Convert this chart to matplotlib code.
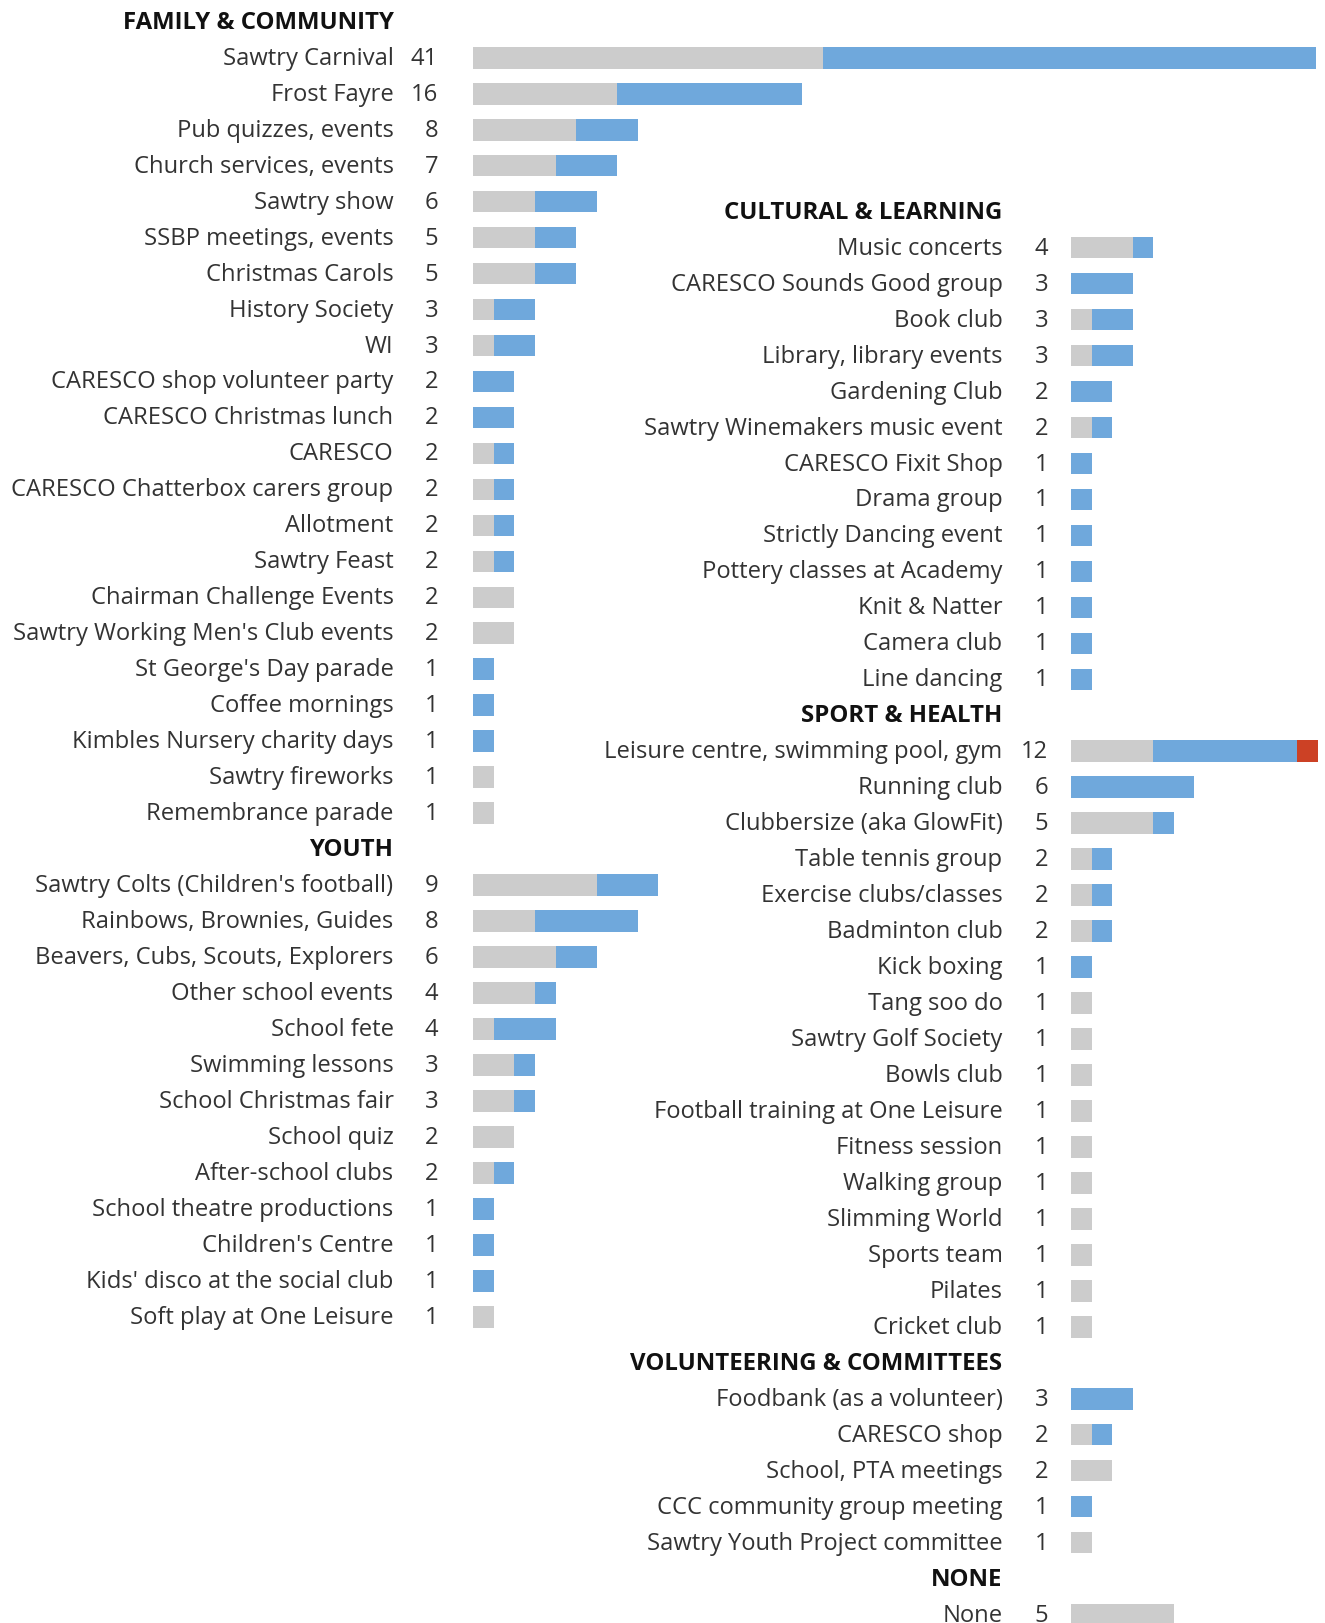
import matplotlib
matplotlib.use("Agg")
import matplotlib.pyplot as plt
import matplotlib.transforms as mtransforms

# ---- data (grey / blue / red segments per activity) ----
family_labels = ["Sawtry Carnival", "Frost Fayre", "Pub quizzes, events", "Church services, events",
                 "Sawtry show", "SSBP meetings, events", "Christmas Carols", "History Society", "WI",
                 "CARESCO shop volunteer party", "CARESCO Christmas lunch", "CARESCO",
                 "CARESCO Chatterbox carers group", "Allotment", "Sawtry Feast",
                 "Chairman Challenge Events", "Sawtry Working Men's Club events",
                 "St George's Day parade", "Coffee mornings", "Kimbles Nursery charity days",
                 "Sawtry fireworks", "Remembrance parade"]
family_grey = [17, 7, 5, 4, 3, 3, 3, 1, 1, 0, 0, 1, 1, 1, 1, 2, 2, 0, 0, 0, 1, 1]
family_blue = [24, 9, 3, 3, 3, 2, 2, 2, 2, 2, 2, 1, 1, 1, 1, 0, 0, 1, 1, 1, 0, 0]

youth_labels = ["Sawtry Colts (Children's football)", "Rainbows, Brownies, Guides",
                "Beavers, Cubs, Scouts, Explorers", "Other school events", "School fete",
                "Swimming lessons", "School Christmas fair", "School quiz", "After-school clubs",
                "School theatre productions", "Children's Centre", "Kids' disco at the social club",
                "Soft play at One Leisure"]
youth_grey = [6, 3, 4, 3, 1, 2, 2, 2, 1, 0, 0, 0, 1]
youth_blue = [3, 5, 2, 1, 3, 1, 1, 0, 1, 1, 1, 1, 0]

cultural_labels = ["Music concerts", "CARESCO Sounds Good group", "Book club",
                   "Library, library events", "Gardening Club", "Sawtry Winemakers music event",
                   "CARESCO Fixit Shop", "Drama group", "Strictly Dancing event",
                   "Pottery classes at Academy", "Knit & Natter", "Camera club", "Line dancing"]
cultural_grey = [3, 0, 1, 1, 0, 1, 0, 0, 0, 0, 0, 0, 0]
cultural_blue = [1, 3, 2, 2, 2, 1, 1, 1, 1, 1, 1, 1, 1]

sport_labels = ["Leisure centre, swimming pool, gym", "Running club", "Clubbersize (aka GlowFit)",
                "Table tennis group", "Exercise clubs/classes", "Badminton club", "Kick boxing",
                "Tang soo do", "Sawtry Golf Society", "Bowls club", "Football training at One Leisure",
                "Fitness session", "Walking group", "Slimming World", "Sports team", "Pilates",
                "Cricket club"]
sport_grey = [4, 0, 4, 1, 1, 1, 0, 1, 1, 1, 1, 1, 1, 1, 1, 1, 1]
sport_blue = [7, 6, 1, 1, 1, 1, 1, 0, 0, 0, 0, 0, 0, 0, 0, 0, 0]
sport_red = [1, 0, 0, 0, 0, 0, 0, 0, 0, 0, 0, 0, 0, 0, 0, 0, 0]

volunteer_labels = ["Foodbank (as a volunteer)", "CARESCO shop", "School, PTA meetings",
                    "CCC community group meeting", "Sawtry Youth Project committee"]
volunteer_grey = [0, 1, 2, 0, 1]
volunteer_blue = [3, 1, 0, 1, 0]

none_labels = ["None"]
none_grey = [5]
none_blue = [0]

GREY = "#cccccc"
BLUE = "#6fa8dc"
RED = "#cc4125"
TEXT = "#333333"
HEAD = "#111111"

W, H = 1325, 1624
ROW = 35.97        # px per row
ROW0 = 22.8        # px from top to first header
UNIT = 20.55       # px per count

plt.rcParams["font.family"] = ["Open Sans", "DejaVu Sans"]
fig = plt.figure(figsize=(W / 100, H / 100), dpi=100)


def make_axes(x0_px):
    ax = fig.add_axes([x0_px / W, 0, 1 - x0_px / W, 1])
    ax.set_xlim(0, (W - x0_px) / UNIT)
    ax.set_ylim((H - ROW0) / ROW, -ROW0 / ROW)
    ax.axis("off")
    return ax


def draw_column(ax, sections, start, label_x, num_x):
    tr = mtransforms.blended_transform_factory(fig.transFigure, ax.transData)
    y = start
    for title, labels, grey, blue, red in sections:
        ax.text(label_x / W, y, title, transform=tr, ha="right", va="center",
                fontsize=17.3, fontweight="bold", color=HEAD)
        y += 1
        rows = [y + i for i in range(len(labels))]
        ax.barh(rows, grey, height=0.6, color=GREY, linewidth=0)
        ax.barh(rows, blue, left=grey, height=0.6, color=BLUE, linewidth=0)
        left2 = [g + b for g, b in zip(grey, blue)]
        ax.barh(rows, red, left=left2, height=0.6, color=RED, linewidth=0)
        for r, lab, g, b, d in zip(rows, labels, grey, blue, red):
            ax.text(label_x / W, r, lab, transform=tr, ha="right", va="center",
                    fontsize=17.1, color=TEXT)
            ax.text(num_x / W, r, str(g + b + d), transform=tr, ha="right", va="center",
                    fontsize=17.1, color=TEXT)
        y += len(labels)


zeros = lambda n: [0] * n

ax_left = make_axes(473.3)
draw_column(ax_left, [
    ("FAMILY & COMMUNITY", family_labels, family_grey, family_blue, zeros(len(family_labels))),
    ("YOUTH", youth_labels, youth_grey, youth_blue, zeros(len(youth_labels))),
], 0, 393.5, 438)

ax_right = make_axes(1071)
draw_column(ax_right, [
    ("CULTURAL & LEARNING", cultural_labels, cultural_grey, cultural_blue, zeros(len(cultural_labels))),
    ("SPORT & HEALTH", sport_labels, sport_grey, sport_blue, sport_red),
    ("VOLUNTEERING & COMMITTEES", volunteer_labels, volunteer_grey, volunteer_blue,
     zeros(len(volunteer_labels))),
    ("NONE", none_labels, none_grey, none_blue, zeros(1)),
], 5.28, 1002.5, 1048)

fig.savefig("out.png", dpi=100)
